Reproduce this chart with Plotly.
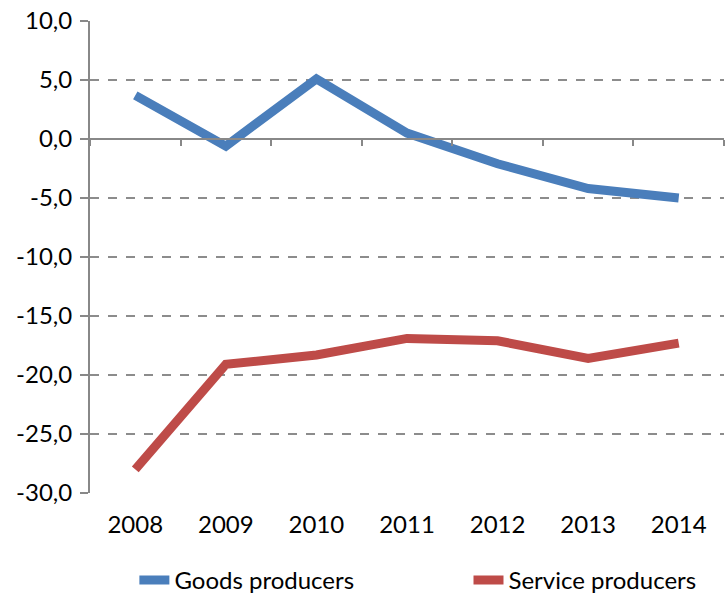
import plotly.graph_objects as go

years = ["2008", "2009", "2010", "2011", "2012", "2013", "2014"]
goods = [3.7, -0.6, 5.1, 0.5, -2.1, -4.2, -5.0]
service = [-28.0, -19.1, -18.3, -16.9, -17.1, -18.6, -17.3]
ytick_vals = [-30, -25, -20, -15, -10, -5, 0, 5, 10]
ytick_text = ["-30,0", "-25,0", "-20,0", "-15,0", "-10,0", "-5,0", "0,0", "5,0", "10,0"]

font = "Lato, 'Open Sans', sans-serif"
fig = go.Figure()
fig.add_trace(go.Scatter(x=years, y=goods, mode="lines", name="Goods producers",
                         line=dict(color="#4a7ebb", width=9), legend="legend"))
fig.add_trace(go.Scatter(x=years, y=service, mode="lines", name="Service producers",
                         line=dict(color="#be4b48", width=9), legend="legend2"))
# invisible trace for the zero axis with ticks
fig.add_trace(go.Scatter(x=years, y=[0]*len(years), xaxis="x2", mode="lines",
                         line=dict(width=0), showlegend=False, hoverinfo="skip"))

fs = 24
fig.update_layout(
    width=727, height=594, margin=dict(l=90, r=3, t=21, b=101, autoexpand=False),
    paper_bgcolor="white", plot_bgcolor="white",
    separators=",.",
    font=dict(family=font, size=fs, color="black"),
    legend=dict(orientation="h", x=0.07, y=-0.185, xanchor="left", yanchor="middle",
                font=dict(size=fs)),
    legend2=dict(orientation="h", x=0.597, y=-0.185, xanchor="left", yanchor="middle",
                 font=dict(size=fs)),
    xaxis=dict(type="category", range=[-0.5, 6.5], showgrid=False, showline=False,
               ticks="", tickfont=dict(size=fs), ticklabelstandoff=15),
    xaxis2=dict(type="category", overlaying="x", anchor="free", position=0.75,
                range=[-0.5, 6.5], side="bottom", showline=True, linecolor="#888888",
                linewidth=2, ticks="outside", tickson="boundaries", ticklen=6,
                tickwidth=2, tickcolor="#888888", showticklabels=False, showgrid=False),
    yaxis=dict(range=[-30, 10], tickvals=ytick_vals, ticktext=ytick_text, showgrid=True,
               gridcolor="#8c8c8c", griddash="dash", gridwidth=1.5,
               showline=True, linecolor="#888888", linewidth=2,
               ticks="outside", ticklen=8, tickwidth=2, tickcolor="#888888",
               zeroline=False, tickfont=dict(size=fs), ticklabelstandoff=3),
)
fig.write_html("out.html")
